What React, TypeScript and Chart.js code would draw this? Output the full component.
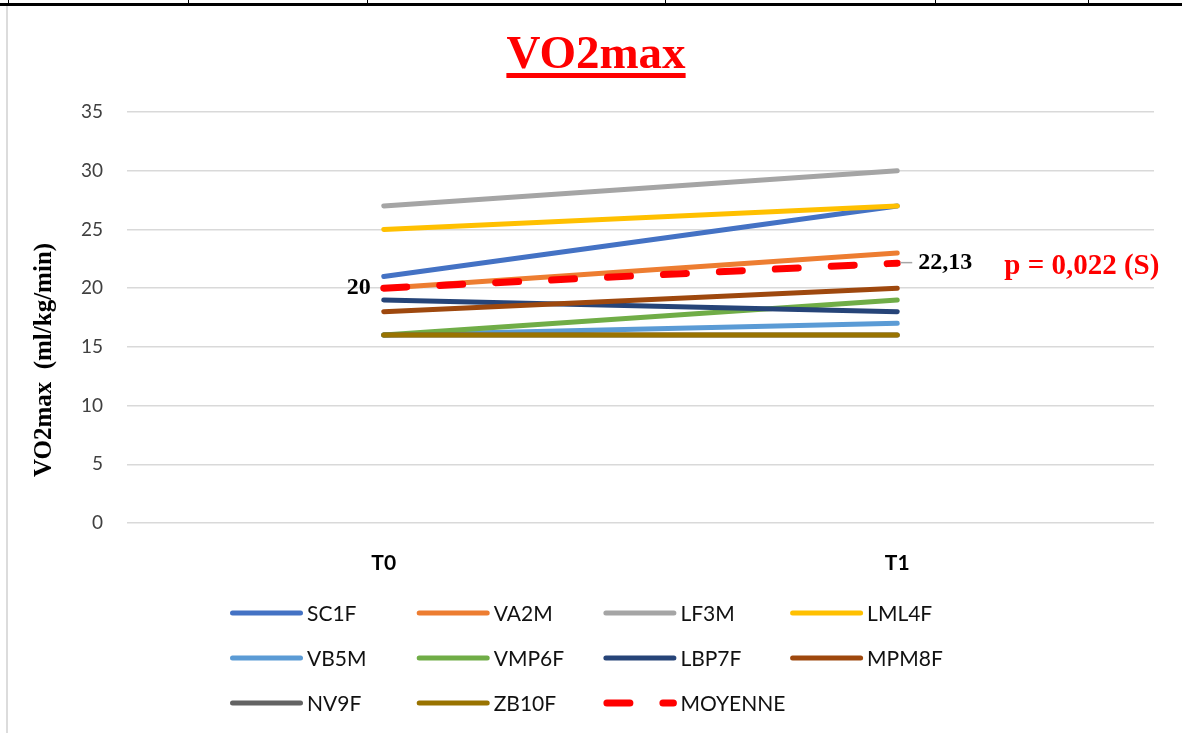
import React, { useEffect, useRef } from "react";
import { Chart, registerables } from "chart.js";

Chart.register(...registerables);

// ---------- data ----------
const categories = ["T0", "T1"];
const seriesNames = ["SC1F", "VA2M", "LF3M", "LML4F", "VB5M", "VMP6F", "LBP7F", "MPM8F", "NV9F", "ZB10F", "MOYENNE"];
const SC1F = [21, 27];
const VA2M = [20, 23];
const LF3M = [27, 30];
const LML4F = [25, 27];
const VB5M = [16, 17];
const VMP6F = [16, 19];
const LBP7F = [19, 18];
const MPM8F = [18, 20];
const NV9F = [16, 16];
const ZB10F = [16, 16];
const MOYENNE = [20, 22.13];
const seriesValues = [SC1F, VA2M, LF3M, LML4F, VB5M, VMP6F, LBP7F, MPM8F, NV9F, ZB10F, MOYENNE];
const yTicks = [0, 5, 10, 15, 20, 25, 30, 35];
const meanLabels = ["20", "22,13"];
const pValueText = "p = 0,022 (S)";
const chartTitle = "VO2max";
const yAxisTitle = "VO2max  (ml/kg/min)";

// ---------- styles ----------
const seriesColors = ["#4472C4", "#ED7D31", "#A5A5A5", "#FFC000", "#5B9BD5", "#70AD47", "#264478", "#9E480E", "#636363", "#997300", "#FF0000"];
const MEAN_INDEX = 10;

const annotationPlugin = {
  id: "annotations",
  afterDatasetsDraw(chart: any) {
    const ctx = chart.ctx as CanvasRenderingContext2D;
    const xs = chart.scales.x;
    const ys = chart.scales.y;
    ctx.save();

    // title
    ctx.font = 'bold 47px "Liberation Serif"';
    ctx.fillStyle = "#FF0000";
    ctx.textAlign = "center";
    ctx.textBaseline = "alphabetic";
    const tx = 596;
    const ty = 68;
    ctx.fillText(chartTitle, tx, ty);
    const tw = ctx.measureText(chartTitle).width;
    ctx.fillRect(tx - tw / 2, ty + 5, tw, 5);

    // y axis title
    ctx.save();
    ctx.translate(45, 360);
    ctx.rotate(-Math.PI / 2);
    ctx.font = 'bold 25px "Liberation Serif"';
    ctx.fillStyle = "#000";
    ctx.textAlign = "center";
    ctx.textBaseline = "middle";
    ctx.fillText(yAxisTitle, 0, 0);
    ctx.restore();

    // mean data labels
    const x0 = xs.getPixelForValue(0);
    const x1 = xs.getPixelForValue(1);
    const y0 = ys.getPixelForValue(MOYENNE[0]);
    const y1 = ys.getPixelForValue(MOYENNE[1]);
    ctx.font = 'bold 24px "Liberation Serif"';
    ctx.fillStyle = "#000";
    ctx.textBaseline = "middle";
    ctx.textAlign = "right";
    ctx.fillText(meanLabels[0], x0 - 13, y0);
    ctx.strokeStyle = "#A6A6A6";
    ctx.lineWidth = 1.5;
    ctx.beginPath();
    ctx.moveTo(x1 + 3, y1 - 0.5);
    ctx.lineTo(x1 + 15, y1 - 0.5);
    ctx.stroke();
    ctx.textAlign = "left";
    ctx.fillText(meanLabels[1], x1 + 21, y1);

    // p value
    ctx.font = 'bold 29px "Liberation Serif"';
    ctx.fillStyle = "#FF0000";
    ctx.fillText(pValueText, x1 + 107, y1 + 3);

    // legend
    const colStart = 230;
    const colStep = 186.7;
    const rowStart = 613;
    const rowStep = 45;
    chart.data.datasets.forEach((ds: any, i: number) => {
      const col = i % 4;
      const row = Math.floor(i / 4);
      const lx = colStart + col * colStep;
      const ly = rowStart + row * rowStep;
      ctx.save();
      ctx.strokeStyle = ds.borderColor;
      ctx.lineCap = "round";
      ctx.beginPath();
      if (i === MEAN_INDEX) {
        ctx.lineWidth = 7;
        ctx.setLineDash([23, 33]);
        ctx.moveTo(lx + 3.5, ly);
        ctx.lineTo(lx + 70, ly);
      } else {
        ctx.lineWidth = 5;
        ctx.moveTo(lx + 2.5, ly);
        ctx.lineTo(lx + 70.5, ly);
      }
      ctx.stroke();
      ctx.restore();
      ctx.font = '21px "Lato"';
      ctx.fillStyle = "#111";
      ctx.textAlign = "left";
      ctx.textBaseline = "middle";
      ctx.fillText(ds.label, lx + 77, ly + 1);
    });

    ctx.restore();
  },
};

export default function App() {
  const canvasRef = useRef<HTMLCanvasElement | null>(null);

  useEffect(() => {
    if (!canvasRef.current) return;
    const datasets = seriesNames.map((name, i) => ({
      label: name,
      data: seriesValues[i],
      borderColor: seriesColors[i],
      backgroundColor: seriesColors[i],
      borderWidth: i === MEAN_INDEX ? 7 : 5,
      borderDash: i === MEAN_INDEX ? [23, 33] : [],
      borderCapStyle: "round",
      borderJoinStyle: "round",
      pointRadius: 0,
      pointHoverRadius: 0,
      tension: 0,
      fill: false,
      order: seriesNames.length - i,
    }));
    const chart = new Chart(canvasRef.current, {
      type: "line",
      data: { labels: categories, datasets: datasets as any },
      options: {
        responsive: false,
        animation: false,
        devicePixelRatio: 1,
        layout: { padding: { top: 112, right: 28, left: 0, bottom: 0 } },
        plugins: {
          legend: { display: false },
          tooltip: { enabled: false },
          title: { display: false },
        },
        scales: {
          x: {
            type: "category",
            offset: true,
            grid: { display: false },
            border: { display: false },
            ticks: {
              font: { family: "Lato", size: 21, weight: "bold" },
              color: "#000",
              padding: 20,
            },
            afterFit: (s: any) => {
              s.height = 210;
            },
          },
          y: {
            min: yTicks[0],
            max: yTicks[yTicks.length - 1],
            afterBuildTicks: (s: any) => {
              s.ticks = yTicks.map((v) => ({ value: v }));
            },
            ticks: {
              font: { family: "Lato", size: 19 },
              color: "#404040",
              padding: 24,
            },
            grid: { color: "#D9D9D9", lineWidth: 1.5, drawTicks: false },
            border: { display: false },
            afterFit: (s: any) => {
              s.width = 127;
            },
          },
        },
      } as any,
      plugins: [annotationPlugin],
    });
    return () => chart.destroy();
  }, []);

  const vTicks = [8, 188, 367, 665, 935, 1088];
  return (
    <div style={{ position: "absolute", left: 0, top: 0, width: 1182, height: 733, background: "#fff", overflow: "hidden" }}>
      <div style={{ position: "absolute", left: 0, top: 3, width: 1182, height: 3, background: "#000" }} />
      {vTicks.map((x) => (
        <div key={x} style={{ position: "absolute", left: x, top: 0, width: 1, height: 4, background: "#000" }} />
      ))}
      <div style={{ position: "absolute", left: 6, top: 6, width: 2, height: 727, background: "#DCDCDC" }} />
      <canvas ref={canvasRef} width={1182} height={733} style={{ position: "absolute", left: 0, top: 0 }} />
    </div>
  );
}
